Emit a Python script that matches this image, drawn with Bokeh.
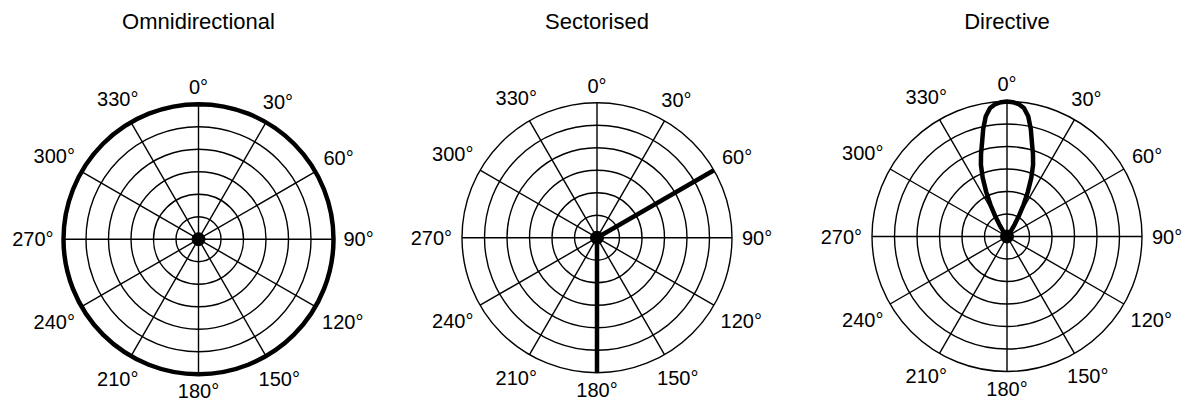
import math
from bokeh.plotting import figure
from bokeh.models import Range1d
from bokeh.core.properties import value
from bokeh.embed import file_html
from bokeh.resources import INLINE

# ---------------- data ----------------
titles = ["Omnidirectional", "Sectorised", "Directive"]
tick_angles = [0, 30, 60, 90, 120, 150, 180, 210, 240, 270, 300, 330]
tick_labels = ["0°", "30°", "60°", "90°", "120°", "150°",
               "180°", "210°", "240°", "270°", "300°", "330°"]
ring_levels = [1 / 6, 2 / 6, 3 / 6, 4 / 6, 5 / 6, 1.0]

omni_gain = 1.0

sector_theta = [60, 0, 180]
sector_r = [1.0, 0.0, 1.0]

directive_theta = [-90, -40, -37.5, -35, -32.5, -30, -27.5, -25, -22.5, -20, -17.5, -15,
                   -12.5, -10, -7.5, -5, -2.5, 0, 2.5, 5, 7.5, 10, 12.5, 15, 17.5,
                   20, 22.5, 25, 27.5, 30, 32.5, 35, 37.5, 40, 90]
directive_r = [0.0, 0.0, 0.02, 0.055, 0.105, 0.175, 0.265, 0.365, 0.47, 0.565, 0.64, 0.715,
               0.815, 0.905, 0.96, 0.985, 0.996, 1.0, 0.996, 0.985, 0.96, 0.905, 0.815, 0.715, 0.64,
               0.565, 0.47, 0.365, 0.265, 0.175, 0.105, 0.055, 0.02, 0.0, 0.0]

# ---------------- layout ----------------
W, H = 1194, 403
R = 135.0
centers_page = [(198.0, 238.7), (596.5, 237.2), (1006.5, 236.0)]
title_page_y = 20.7
TICK_FS = 20
TITLE_FS = 22
FONT = "Liberation Sans"


def to_data(px, py):
    return px, H - py


def polar(cx, cy, theta_deg, r):
    t = math.radians(theta_deg)
    return cx + r * R * math.sin(t), cy + r * R * math.cos(t)


p = figure(width=W, height=H, x_range=Range1d(0, W), y_range=Range1d(0, H),
           output_backend="svg", toolbar_location=None, min_border=0)
p.axis.visible = False
p.xgrid.visible = False
p.ygrid.visible = False
p.outline_line_color = None
p.background_fill_color = "white"
p.border_fill_color = "white"

for i, (cpx, cpy) in enumerate(centers_page):
    cx, cy = to_data(cpx, cpy)

    # rings
    p.circle(x=[cx] * len(ring_levels), y=[cy] * len(ring_levels),
             radius=[lv * R for lv in ring_levels],
             fill_color=None, line_color="black", line_width=1.4)
    # spokes
    x1, y1 = [], []
    for a in tick_angles:
        xx, yy = polar(cx, cy, a, 1.0)
        x1.append(xx)
        y1.append(yy)
    p.segment(x0=[cx] * len(x1), y0=[cy] * len(y1), x1=x1, y1=y1,
              line_color="black", line_width=1.4)

    # tick labels
    lx, ly = [], []
    for a, lab in zip(tick_angles, tick_labels):
        nd = len(lab) - 1
        hw = (nd * 0.556 + 0.4) * TICK_FS / 2
        hh = 0.36 * TICK_FS
        t = math.radians(a)
        dist = R + 10 + hw * abs(math.sin(t)) + hh * abs(math.cos(t))
        lx.append(cx + dist * math.sin(t))
        ly.append(cy + dist * math.cos(t))
    p.text(x=lx, y=ly, text=tick_labels, text_align="center", text_baseline="middle",
           text_font=value(FONT), text_font_size=f"{TICK_FS}px", text_color="black")

    # title
    tx, ty = to_data(cpx, title_page_y)
    p.text(x=[tx], y=[ty], text=[titles[i]], text_align="center", text_baseline="middle",
           text_font=value(FONT), text_font_size=f"{TITLE_FS}px", text_color="black")

    # data
    if i == 0:
        p.circle(x=[cx], y=[cy], radius=[omni_gain * R], fill_color=None,
                 line_color="black", line_width=4.5)
    elif i == 1:
        xs, ys = zip(*[polar(cx, cy, a, r) for a, r in zip(sector_theta, sector_r)])
        p.line(x=list(xs), y=list(ys), line_color="black", line_width=4.5)
    else:
        xs, ys = zip(*[polar(cx, cy, a, r) for a, r in zip(directive_theta, directive_r)])
        p.line(x=list(xs), y=list(ys), line_color="black", line_width=4.5, line_join="round")

    # centre dot
    p.scatter(x=[cx], y=[cy], size=13, marker="circle", fill_color="black", line_color="black")

open("out.html", "w").write(file_html(p, INLINE))
